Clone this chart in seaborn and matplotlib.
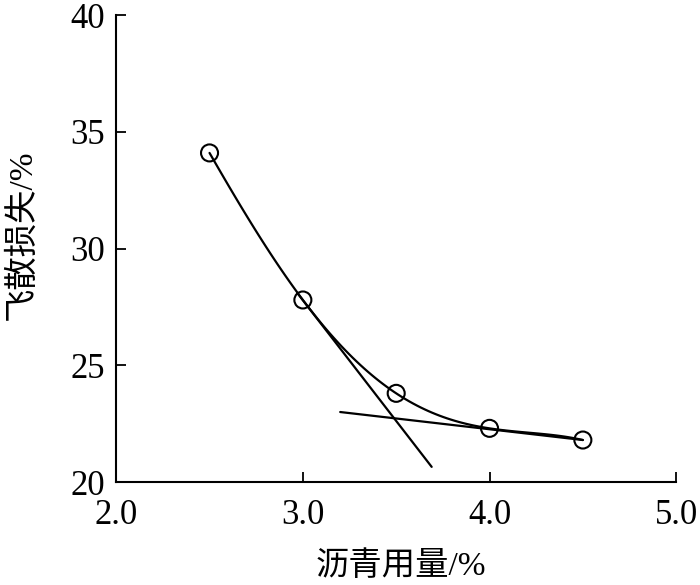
import pandas as pd
import seaborn as sns
import matplotlib.pyplot as plt

# 沥青用量 vs 飞散损失
asphalt = [2.5, 3.0, 3.5, 4.0, 4.5]
loss = [34.1, 27.8, 23.8, 22.3, 21.8]

# two tangent lines (end points)
tan1_x = [2.97, 3.69]
tan1_y = [28.1, 20.65]
tan2_x = [3.2, 4.5]
tan2_y = [23.0, 21.8]

xticks = [2.0, 3.0, 4.0, 5.0]
yticks = [20, 25, 30, 35, 40]

df = pd.DataFrame({"asphalt": asphalt, "loss": loss})

sns.set_style("ticks")
plt.rcParams['font.family'] = ['Liberation Serif', 'Noto Sans CJK SC']
plt.rcParams['text.color'] = "black"
plt.rcParams['axes.labelcolor'] = "black"

fig = plt.figure(figsize=(7, 5.85), dpi=100)
ax = fig.add_axes([0.166, 0.176, 0.8, 0.798])

# smooth curve through the points
sns.regplot(data=df, x="asphalt", y="loss", order=4, ci=None,
            scatter=False, truncate=True,
            line_kws={"color": "black", "lw": 1.6}, ax=ax)

sns.lineplot(x=tan1_x, y=tan1_y, color="black", lw=1.6, ax=ax)
sns.lineplot(x=tan2_x, y=tan2_y, color="black", lw=1.6, ax=ax)

sns.scatterplot(data=df, x="asphalt", y="loss", marker="o", s=150,
                facecolor="none", edgecolor="black", linewidth=1.5,
                zorder=5, ax=ax)

ax.set_xlim(2.0, 5.0)
ax.set_ylim(20, 40)
ax.set_xticks(xticks)
ax.set_xticklabels([f"{v:.1f}" for v in xticks])
ax.set_yticks(yticks)
ax.tick_params(direction="in", length=7, width=1.3, labelsize=25,
               colors="black")
ax.tick_params(axis="x", pad=12)
ax.tick_params(axis="y", pad=8)
for s in ["left", "bottom"]:
    ax.spines[s].set_linewidth(1.5)
    ax.spines[s].set_color("black")
sns.despine(ax=ax)

ax.set_xlabel("沥青用量/%", fontsize=24, va="center")
ax.set_ylabel("飞散损失/%", fontsize=24, va="center")
ax.xaxis.set_label_coords(0.509, -0.182)
ax.yaxis.set_label_coords(-0.168, 0.529)

plt.savefig("out.png", dpi=100)
